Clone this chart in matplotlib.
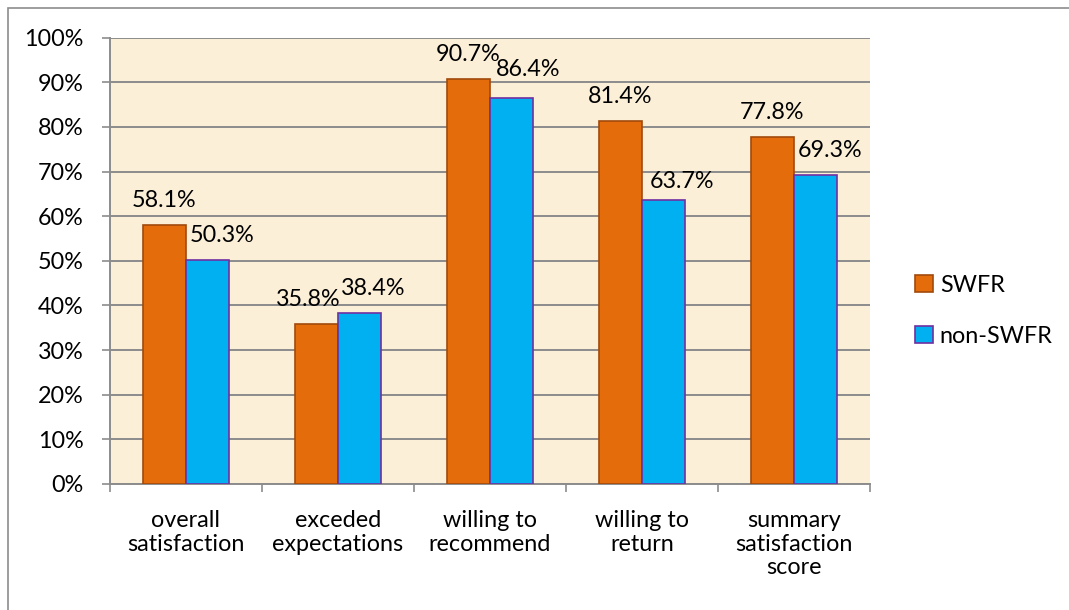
import matplotlib.pyplot as plt
import numpy as np
from matplotlib.patches import Rectangle

categories = ['overall\nsatisfaction', 'exceded\nexpectations', 'willing to\nrecommend',
              'willing to\nreturn', 'summary\nsatisfaction\nscore']
swfr = [58.1, 35.8, 90.7, 81.4, 77.8]
non_swfr = [50.3, 38.4, 86.4, 63.7, 69.3]
y_ticks = [0, 10, 20, 30, 40, 50, 60, 70, 80, 90, 100]

# label nudges in pixels (dx, gap above bar)
swfr_nudge = [(0, 19), (-8, 19), (0, 19), (0, 19), (0, 19)]
non_nudge = [(15, 19), (14, 19), (17, 23), (18, 13), (15, 19)]

plt.rcParams['font.family'] = ['Lato', 'DejaVu Sans']
fs = 16.8

fig = plt.figure(figsize=(10.69, 6.10), dpi=100)
ax = fig.add_axes([110 / 1069, 1 - 484 / 610, 760 / 1069, (484 - 37.7) / 610])

# outer chart border (runs off right/bottom edge like the source)
fig.patches.append(Rectangle((8 / 1069, -0.1), 1.2, 1.1 - 8 / 610, transform=fig.transFigure,
                             fill=False, edgecolor='#8c8c8c', linewidth=1.2, zorder=0))

ax.set_facecolor('#FCEFD8')
x = np.arange(len(categories))
w = 0.283
b1 = ax.bar(x - w / 2, swfr, w, color='#E46C0A', edgecolor='#A14A0C', linewidth=1.2,
            label='SWFR', zorder=3)
b2 = ax.bar(x + w / 2, non_swfr, w, color='#00B0F0', edgecolor='#7030A0', linewidth=1.2,
            label='non-SWFR', zorder=3)

for bars, vals, nudge in [(b1, swfr, swfr_nudge), (b2, non_swfr, non_nudge)]:
    for bar, v, (dx, gap) in zip(bars, vals, nudge):
        ax.annotate(f'{v:.1f}%', (bar.get_x() + bar.get_width() / 2, v),
                    xytext=(dx, gap - 5), textcoords='offset pixels',
                    ha='center', va='bottom', fontsize=fs, color='black')

ax.set_xlim(-0.5, len(categories) - 0.5)
ax.set_ylim(0, 100)
ax.set_yticks(y_ticks)
ax.set_yticklabels([f'{t}%' for t in y_ticks], fontsize=fs)
ax.set_xticks(x)
ax.set_xticklabels(categories, fontsize=fs, linespacing=1.13)
ax.set_xticks(np.arange(-0.5, len(categories), 1), minor=True)
ax.tick_params(axis='x', which='major', length=0, pad=19)
ax.tick_params(axis='x', which='minor', length=6, color='#8c8c8c', width=1.2)
ax.tick_params(axis='y', length=6, color='#8c8c8c', width=1.2, pad=13)

ax.grid(axis='y', color='#8c8c8c', linewidth=1.4, zorder=1)
ax.set_axisbelow(True)
for s in ['top', 'right']:
    ax.spines[s].set_visible(False)
for s in ['left', 'bottom']:
    ax.spines[s].set_color('#8c8c8c')
    ax.spines[s].set_linewidth(1.4)

ax.legend(loc='center left', bbox_to_anchor=(1.032, 0.388), frameon=False, fontsize=fs,
          handlelength=0.75, handleheight=0.75, handletextpad=0.3, labelspacing=1.3)

fig.savefig('out.png', dpi=100)
